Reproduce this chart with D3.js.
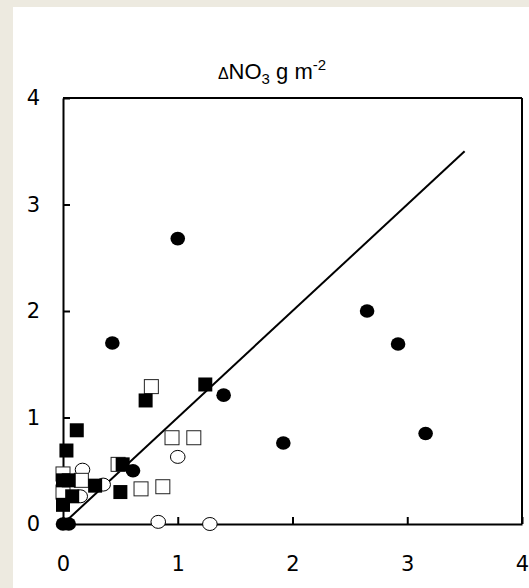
<!DOCTYPE html>
<html>
<head>
<meta charset="utf-8">
<script src="https://cdn.jsdelivr.net/npm/d3@7"></script>
<style>
  body { margin: 0; background: #ffffff; }
  .tick text { font-family: 'DejaVu Sans', Verdana, sans-serif; font-size: 21px; fill: #000; }
</style>
</head>
<body>
<script>
// values, one array pair per marker series
const filledCircleX = [0, 0.05, 0.43, 0.61, 1.0, 1.40, 1.92, 2.65, 2.92, 3.16];
const filledCircleY = [0, 0, 1.70, 0.50, 2.68, 1.21, 0.76, 2.0, 1.69, 0.85];

const openCircleX = [0.17, 0.35, 0.15, 0.83, 1.0, 1.28];
const openCircleY = [0.51, 0.37, 0.26, 0.02, 0.63, 0.0];

const openSquareX = [0.0, 0.16, 0.0, 0.48, 0.68, 0.87, 0.95, 1.14, 0.77];
const openSquareY = [0.47, 0.41, 0.30, 0.56, 0.33, 0.35, 0.81, 0.81, 1.29];

const filledSquareX = [0.0, 0.03, 0.12, 0.0, 0.05, 0.28, 0.52, 0.50, 0.08, 0.72, 1.24];
const filledSquareY = [0.18, 0.69, 0.88, 0.41, 0.41, 0.36, 0.56, 0.30, 0.26, 1.16, 1.31];

const fitLine = [[0, 0], [3.5, 3.5]];
const tickValues = [0, 1, 2, 3, 4];

const chartWidth = 529;
const chartHeight = 588;
const margin = { top: 98, right: 7, bottom: 64, left: 63 };
const width = chartWidth - margin.left - margin.right;
const height = chartHeight - margin.top - margin.bottom;

const toPoints = (xs, ys) => xs.map((x, i) => ({ x: x, y: ys[i] }));

const root = d3.select('body')
  .append('svg')
  .attr('width', chartWidth)
  .attr('height', chartHeight);

// beige frame strips at left and top
root.append('rect').attr('width', chartWidth).attr('height', chartHeight).attr('fill', '#edeae0');
root.append('rect').attr('x', 13).attr('y', 7).attr('width', chartWidth - 13).attr('height', chartHeight - 7).attr('fill', '#ffffff');

// cut-off bold letter at the bottom-left corner
root.append('text')
  .attr('x', -2).attr('y', 601)
  .attr('font-family', 'DejaVu Sans, Verdana, sans-serif')
  .attr('font-weight', 'bold')
  .attr('font-size', 20)
  .text('g');

const svg = root.append('g')
  .attr('transform', 'translate(' + margin.left + ',' + margin.top + ')');

const scaleX = d3.scaleLinear().domain([0, 4]).range([0, width]);
const scaleY = d3.scaleLinear().domain([0, 4]).range([height, 0]);

const xAxis = d3.axisBottom(scaleX).tickValues(tickValues).tickSizeInner(-7).tickSizeOuter(0).tickFormat(d3.format('d'));
const yAxis = d3.axisLeft(scaleY).tickValues(tickValues).tickSizeInner(-7).tickSizeOuter(0).tickFormat(d3.format('d'));

// title
const title = root.append('text')
  .attr('x', 272)
  .attr('y', 79)
  .attr('text-anchor', 'middle')
  .attr('font-family', 'Liberation Sans, Arial, sans-serif')
  .attr('font-size', 22);
title.append('tspan').attr('font-size', 16).text('\u0394');
title.append('tspan').text('NO');
title.append('tspan').attr('font-size', 15).attr('dy', 5).text('3');
title.append('tspan').attr('dy', -5).text(' g m');
title.append('tspan').attr('font-size', 15).attr('dy', -9).text('-2');

// frame: top and right
svg.append('line').attr('x1', 0).attr('x2', width).attr('y1', 0).attr('y2', 0).attr('stroke', '#000').attr('stroke-width', 2);
svg.append('line').attr('x1', width).attr('x2', width).attr('y1', 0).attr('y2', height).attr('stroke', '#000').attr('stroke-width', 2);

const gx = svg.append('g')
  .attr('class', 'x axis')
  .attr('transform', 'translate(0,' + height + ')')
  .call(xAxis);
gx.selectAll('.tick text').attr('y', 47).attr('dy', 0);

const gy = svg.append('g')
  .attr('class', 'y axis')
  .call(yAxis);
gy.selectAll('.tick text').attr('x', -23);

svg.selectAll('.domain').attr('stroke', '#000').attr('stroke-width', 2);
svg.selectAll('.tick line').attr('stroke', '#000').attr('stroke-width', 2);

// fitted 1:1 line
const line = d3.line().x((d) => scaleX(d[0])).y((d) => scaleY(d[1]));
svg.append('path')
  .datum(fitLine)
  .attr('d', line)
  .attr('fill', 'none')
  .attr('stroke', '#000')
  .attr('stroke-width', 2);

const half = 7;

svg.selectAll('.open-circle')
  .data(toPoints(openCircleX, openCircleY))
  .enter()
    .append('ellipse')
    .attr('class', 'open-circle')
    .attr('cx', (d) => scaleX(d.x))
    .attr('cy', (d) => scaleY(d.y))
    .attr('rx', 7.3)
    .attr('ry', 6.5)
    .attr('fill', '#fff')
    .attr('stroke', '#000')
    .attr('stroke-width', 1);

svg.selectAll('.open-square')
  .data(toPoints(openSquareX, openSquareY))
  .enter()
    .append('rect')
    .attr('class', 'open-square')
    .attr('x', (d) => scaleX(d.x) - half)
    .attr('y', (d) => scaleY(d.y) - half)
    .attr('width', half * 2)
    .attr('height', half * 2)
    .attr('fill', '#fff')
    .attr('stroke', '#222')
    .attr('stroke-width', 1);

svg.selectAll('.filled-square')
  .data(toPoints(filledSquareX, filledSquareY))
  .enter()
    .append('rect')
    .attr('class', 'filled-square')
    .attr('x', (d) => scaleX(d.x) - half)
    .attr('y', (d) => scaleY(d.y) - half)
    .attr('width', half * 2)
    .attr('height', half * 2)
    .attr('fill', '#000');

svg.selectAll('.filled-circle')
  .data(toPoints(filledCircleX, filledCircleY))
  .enter()
    .append('ellipse')
    .attr('class', 'filled-circle')
    .attr('cx', (d) => scaleX(d.x))
    .attr('cy', (d) => scaleY(d.y))
    .attr('rx', 7.3)
    .attr('ry', 6.8)
    .attr('fill', '#000');
</script>
</body>
</html>
